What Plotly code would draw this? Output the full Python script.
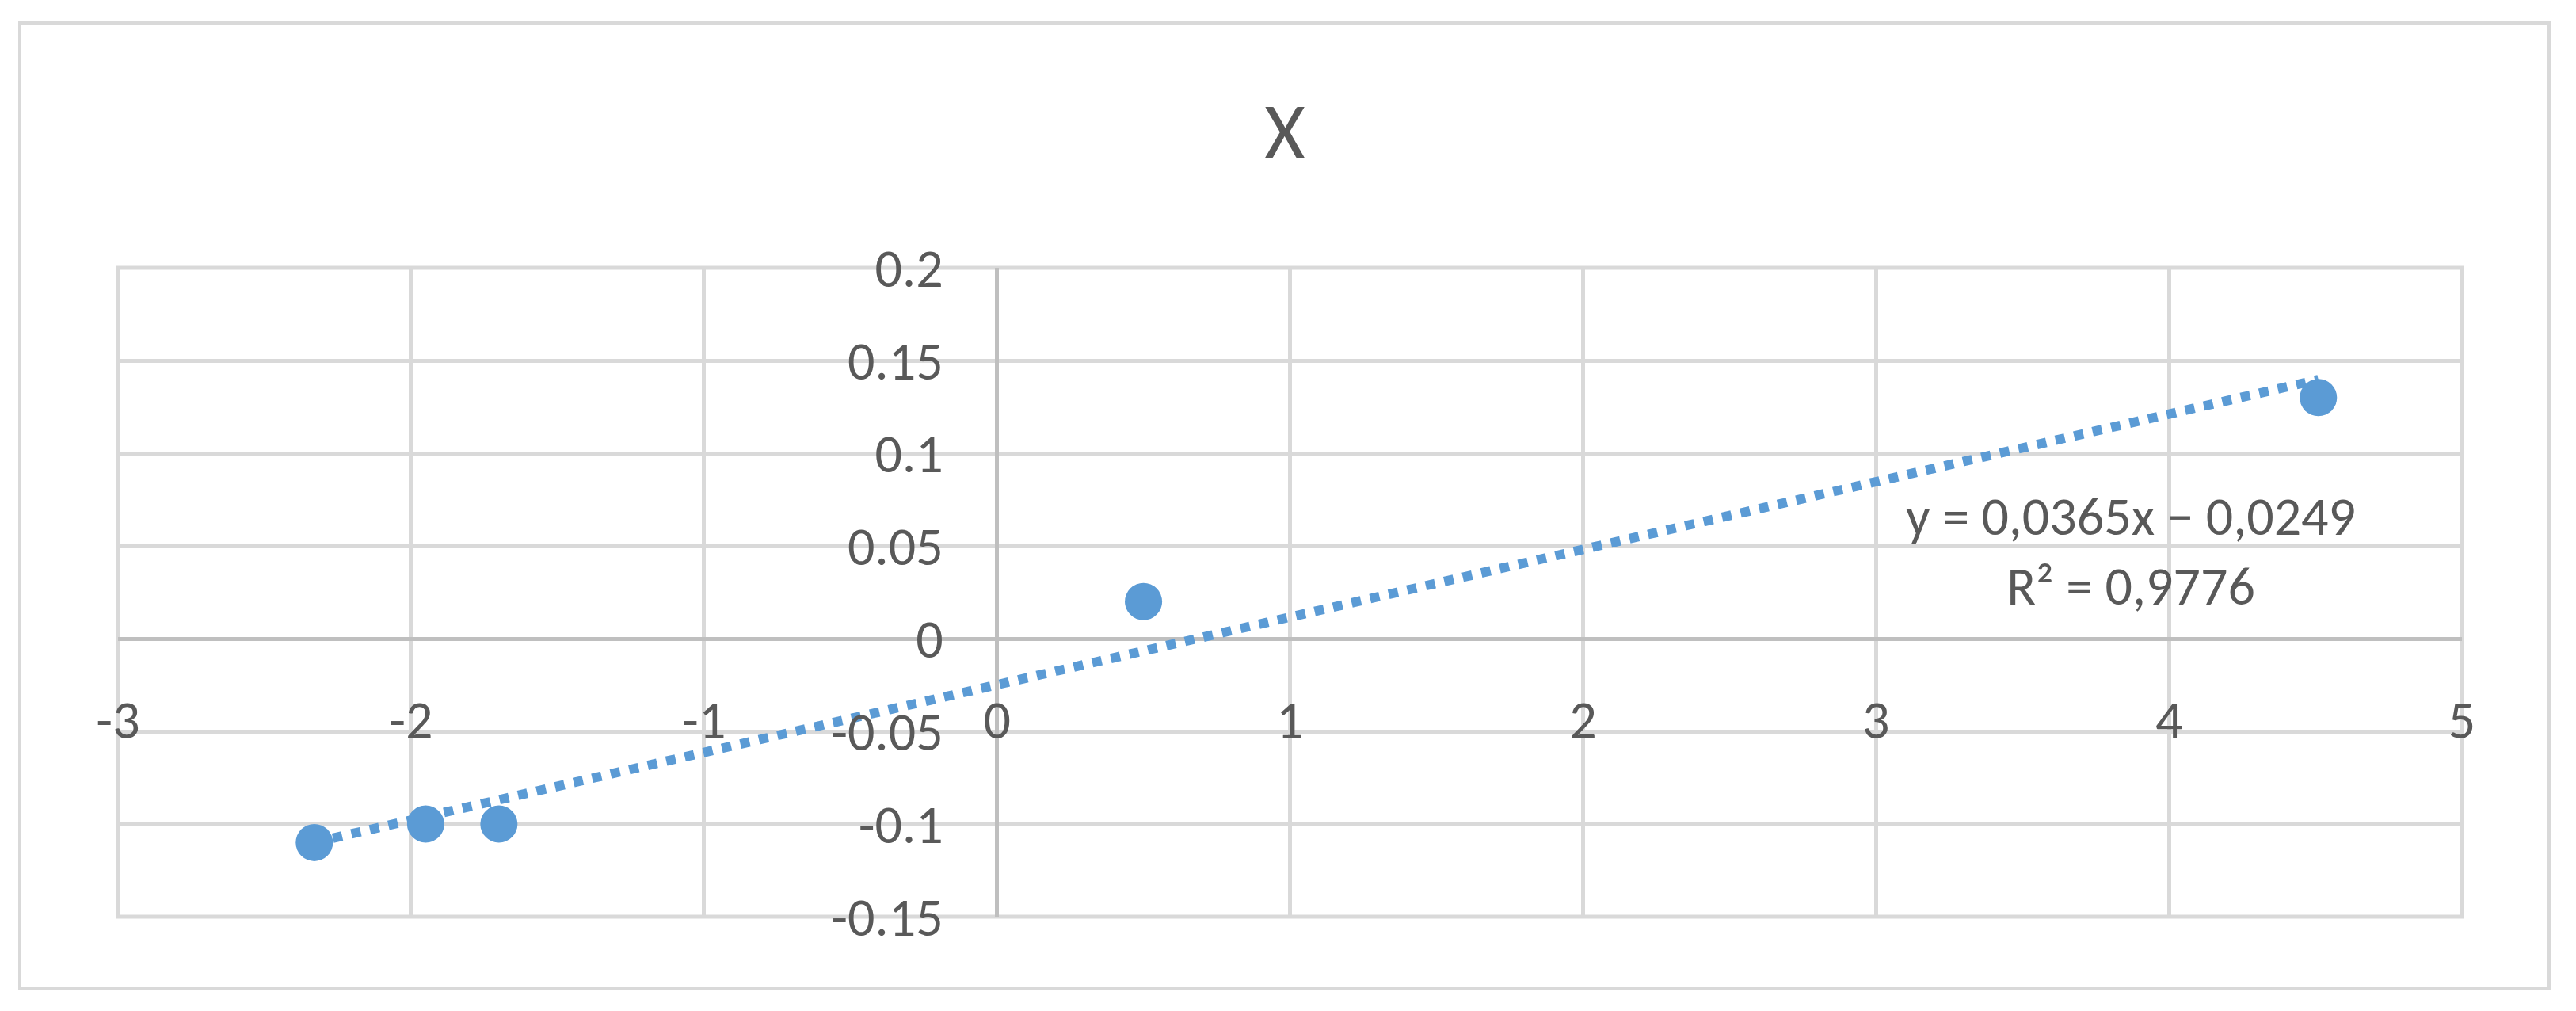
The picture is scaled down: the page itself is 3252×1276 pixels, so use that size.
import plotly.graph_objects as go

# data
x_vals = [-2.33, -1.95, -1.70, 0.50, 4.51]
y_vals = [-0.11, -0.10, -0.10, 0.02, 0.13]

# linear trendline, as printed on the chart
slope = 0.0365
intercept = -0.0249
eq_text = "y = 0,0365x − 0,0249<br>R² = 0,9776"

x_ticks = [-3, -2, -1, 0, 1, 2, 3, 4, 5]
x_ticktext = ["-3", "-2", "-1", "0", "1", "2", "3", "4", "5"]
y_ticks = [-0.15, -0.1, -0.05, 0, 0.05, 0.1, 0.15, 0.2]
y_ticktext = ["-0.15", "-0.1", "-0.05", "0", "0.05", "0.1", "0.15", "0.2"]

blue = "#5B9BD5"
grid = "#D9D9D9"
axis_c = "#BFBFBF"
txt = "#595959"
font = "Calibri, Carlito, Lato, sans-serif"

W, H = 3252, 1276
off = 8  # page body margin
ml, mt = 149 - off, 338 - off
mr, mb = W - 3108 + off, H - 1157 + off

fig = go.Figure()

tx = [min(x_vals), max(x_vals)]
fig.add_trace(go.Scatter(
    x=tx, y=[slope * v + intercept for v in tx],
    mode="lines",
    line=dict(color=blue, width=12, dash="12px,12px"),
    hoverinfo="skip",
))
fig.add_trace(go.Scatter(
    x=x_vals, y=y_vals,
    mode="markers",
    marker=dict(color=blue, size=47),
))

# axes cross at zero, like in excel
x_range = [-3, 5]
y_range = [-0.15, 0.2]
x_pos = (0 - y_range[0]) / (y_range[1] - y_range[0])
y_pos = (0 - x_range[0]) / (x_range[1] - x_range[0])

fig.update_layout(
    width=W, height=H,
    margin=dict(l=ml, r=mr, t=mt, b=mb),
    paper_bgcolor="white",
    plot_bgcolor="white",
    showlegend=False,
    font=dict(family=font, color=txt, size=68),
    title=dict(text="X", x=(1622 - off) / W, y=1 - (165 - off) / H,
               xanchor="center", yanchor="middle",
               font=dict(size=100, color=txt, family=font)),
    xaxis=dict(
        range=x_range, tickvals=x_ticks, ticktext=x_ticktext,
        showgrid=True, gridcolor=grid, gridwidth=5,
        zeroline=True, zerolinecolor=axis_c, zerolinewidth=5,
        showline=False, ticks="",
        anchor="free", position=x_pos, ticklabelstandoff=57,
        tickfont=dict(size=68, color=txt, family=font),
    ),
    yaxis=dict(
        range=y_range, tickvals=y_ticks, ticktext=y_ticktext,
        showgrid=True, gridcolor=grid, gridwidth=5,
        zeroline=True, zerolinecolor=axis_c, zerolinewidth=5,
        showline=False, ticks="",
        anchor="free", position=y_pos, ticklabelstandoff=68,
        tickfont=dict(size=68, color=txt, family=font),
    ),
)

pw = W - ml - mr
ph = H - mt - mb

def px_x(p):
    return (p - off - ml) / pw

def px_y(p):
    return (H - mb - (p - off)) / ph

# plot area edge gridlines
fig.add_shape(type="rect", xref="paper", yref="paper", x0=0, x1=1, y0=0, y1=1,
              line=dict(color=grid, width=5), layer="below")

# chart outer border
fig.add_shape(type="rect", xref="paper", yref="paper",
              x0=px_x(25), x1=px_x(3218), y0=px_y(1248), y1=px_y(29),
              line=dict(color=grid, width=4), layer="below")

fig.add_annotation(
    text=eq_text, xref="paper", yref="paper",
    x=px_x(2690), y=px_y(695),
    xanchor="center", yanchor="middle", showarrow=False, align="center",
    font=dict(size=68, color=txt, family=font),
)

fig.write_html("out.html")
